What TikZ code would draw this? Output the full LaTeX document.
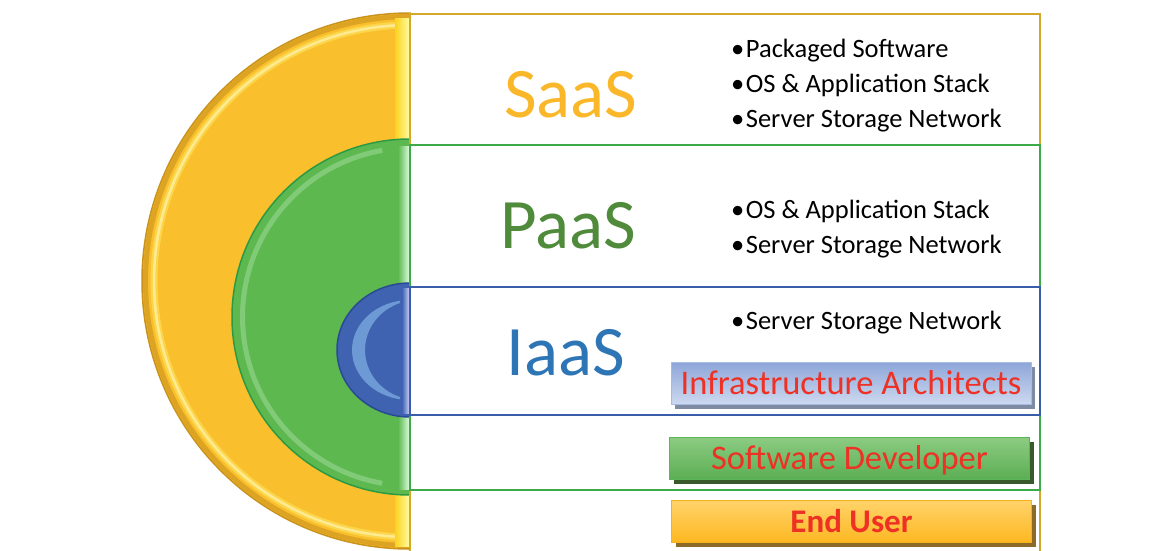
\documentclass[tikz,border=0pt]{standalone}
\usepackage{fontspec}
\setmainfont{Carlito}
\usetikzlibrary{shadows}
\definecolor{ylw}{HTML}{F9BF2C}
\definecolor{ylwdk}{HTML}{C9921C}
\definecolor{ylwhi}{HTML}{FFE866}
\definecolor{grn}{HTML}{5DB94F}
\definecolor{grndk}{HTML}{2C9A45}
\definecolor{grnhi}{HTML}{9AD692}
\definecolor{blu}{HTML}{3F63B0}
\definecolor{bludk}{HTML}{2A4A94}
\definecolor{bluhi}{HTML}{8CC0EC}
\definecolor{saasC}{HTML}{FBB72A}
\definecolor{paasC}{HTML}{4F8B3B}
\definecolor{iaasC}{HTML}{2E75B6}
\definecolor{roleRed}{HTML}{EE3124}
\definecolor{boxY}{HTML}{D4A92A}
\definecolor{boxG}{HTML}{3DAA4A}
\definecolor{boxB}{HTML}{3A5DAA}
\tikzset{
  bigname/.style={font=\fontsize{71}{71}\selectfont, text depth=0pt, inner sep=0pt},
  bullet/.style={anchor=base west, font=\fontsize{26.5}{26.5}\selectfont, text=black, inner sep=0pt},
  rolebtn/.style={minimum width=360pt, minimum height=42pt, inner sep=0pt, text=roleRed,
    font=\fontsize{34.5}{34.5}\selectfont, line width=1pt, text depth=0pt, text height=22pt},
}
\newcommand{\bul}{•\hspace{1.5pt}}
\begin{document}
\begin{tikzpicture}[x=1pt,y=-1pt]
\useasboundingbox (0,0) rectangle (1165,550);
\clip (0,0) rectangle (1165,550);
\fill[white] (0,0) rectangle (1165,550);
% yellow half disc
\path[fill=ylw, draw=ylwdk, line width=1.5pt] (410,13) arc[start angle=90,end angle=270,radius=268pt] -- cycle;
\draw[ylwdk!60!ylw, line width=5pt] (410,16.5) arc[start angle=90,end angle=270,radius=264.5pt];
\draw[ylwhi, line width=7pt, opacity=.55] (410,25) arc[start angle=90,end angle=270,radius=256pt];
\draw[ylwhi!60!white, line width=2.5pt, opacity=.8] (410,25) arc[start angle=90,end angle=270,radius=256pt];
\shade[left color=ylw!70!yellow, right color=yellow!35] (395,18) rectangle (410,546);
% green half disc
\path[fill=grn, draw=grndk, line width=1.5pt] (410,139) arc[start angle=90,end angle=270,radius=178pt] -- cycle;
\draw[grnhi, line width=5pt, opacity=.6] (382.2,150.4) arc[start angle=100,end angle=260,radius=169pt];
\shade[left color=grn, right color=green!10] (398,146) rectangle (410,489);
% blue half disc
\path[fill=blu, draw=bludk, line width=1.5pt] (410,283) arc[start angle=90,end angle=270,x radius=73pt,y radius=67pt] -- cycle;
\begin{scope}
\clip (340,290) rectangle (400,410);
\fill[bluhi, even odd rule, opacity=.6] (410,350) ellipse[x radius=58pt,y radius=50pt] (418,350) ellipse[x radius=53pt,y radius=50pt];
\end{scope}
\shade[left color=blu, right color=blue!15] (402,288) rectangle (410,413);
% layer boxes
\draw[boxY, line width=1.5pt] (410,14) rectangle (1040,560);
\draw[boxG, line width=1.5pt] (410,145) rectangle (1040,490);
\draw[boxB, line width=2pt] (410,287) rectangle (1040,415);
% layer names
\node[bigname, text=saasC] (saas) at (571,94) {SaaS};
\node[bigname, text=paasC] (paas) at (568,225) {PaaS};
\node[bigname, text=iaasC] (iaas) at (566,352) {IaaS};
% bullets
\node[bullet] (s1) at (731,57) {\bul Packaged Software};
\node[bullet] (s2) at (731,92) {\bul OS \& Application Stack};
\node[bullet] (s3) at (731,127) {\bul Server Storage Network};
\node[bullet] (p1) at (731,218) {\bul OS \& Application Stack};
\node[bullet] (p2) at (731,253) {\bul Server Storage Network};
\node[bullet] (i1) at (731,329) {\bul Server Storage Network};
% role buttons
\node[rolebtn, draw={rgb,255:red,168;green,187;blue,226}, top color={rgb,255:red,141;green,165;blue,216}, bottom color={rgb,255:red,205;green,217;blue,240},
  general shadow={fill={rgb,255:red,127;green,139;blue,163}, shadow xshift=4pt, shadow yshift=-5pt}] (ia) at (851,383) {Infrastructure Architects};
\node[rolebtn, draw={rgb,255:red,91;green,181;blue,90}, top color={rgb,255:red,140;green,204;blue,130}, bottom color={rgb,255:red,92;green,174;blue,84},
  general shadow={fill={rgb,255:red,58;green,90;blue,44}, shadow xshift=4pt, shadow yshift=-5pt}] (sd) at (849.5,458) {Software Developer};
\node[rolebtn, draw={rgb,255:red,246;green,178;blue,26}, top color={rgb,255:red,255;green,211;blue,106}, bottom color={rgb,255:red,253;green,184;blue,34},
  general shadow={fill={rgb,255:red,139;green,106;blue,42}, shadow xshift=4pt, shadow yshift=-5pt}, font=\fontsize{33}{33}\selectfont\bfseries] (eu) at (851.5,521) {End User};
\end{tikzpicture}
\end{document}
